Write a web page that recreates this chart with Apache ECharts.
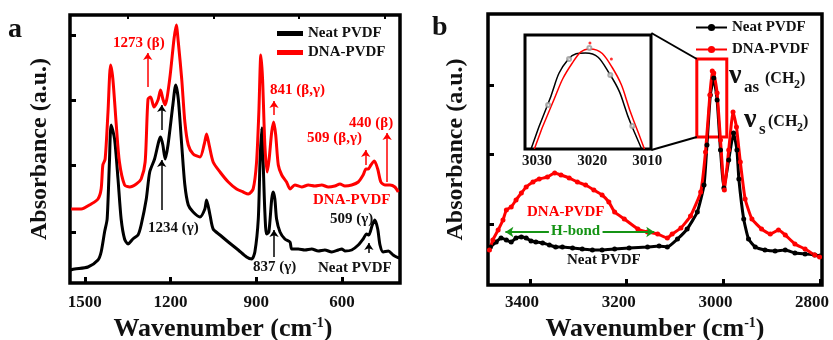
<!DOCTYPE html>
<html>
<head>
<meta charset="utf-8">
<script src="https://cdn.jsdelivr.net/npm/echarts@6/dist/echarts.min.js"></script>
<style>
  html, body { margin: 0; padding: 0; background: #fff; }
  #chart { width: 833px; height: 340px; }
</style>
</head>
<body>
<div id="chart"></div>
<script>
// ---- panel a: fingerprint region ----
var waveA_neat = [1550,1536,1489,1454,1443,1431,1422,1414,1408,1396,1384,1373,1361,1349,1332,1314,1303,1285,1273,1256,1235,1227,1219,1209,1192,1182,1173,1161,1150,1138,1121,1097,1080,1074,1062,1051,1027,998,963,934,916,905,893,887,881,876,870,864,856,846,841,835,829,817,800,782,776,753,730,706,683,660,636,613,601,590,566,543,526,514,506,494,485,475,467,456,438,421,409,400];
var absA_neat = [0.13,0.14,0.16,0.23,0.31,0.51,0.64,1.21,1.58,1.44,1.04,0.64,0.44,0.39,0.44,0.48,0.58,0.84,1.11,1.24,1.46,1.38,1.24,1.38,1.78,1.98,1.84,1.38,0.98,0.78,0.71,0.66,0.74,0.83,0.68,0.54,0.48,0.41,0.33,0.26,0.24,0.31,0.64,1.21,1.55,1.21,0.71,0.49,0.51,0.84,0.91,0.84,0.64,0.51,0.44,0.41,0.34,0.34,0.33,0.34,0.32,0.33,0.31,0.33,0.34,0.32,0.33,0.38,0.44,0.49,0.48,0.58,0.63,0.54,0.38,0.31,0.32,0.28,0.26,0.25];
var waveA_dna = [1548,1513,1478,1454,1443,1437,1429,1419,1410,1402,1390,1379,1361,1343,1320,1303,1289,1279,1270,1258,1244,1235,1227,1219,1203,1188,1180,1173,1161,1150,1138,1121,1097,1082,1074,1065,1051,1027,998,969,946,928,911,899,891,884,878,870,862,855,846,839,832,823,811,794,782,765,741,718,695,671,648,625,607,590,566,543,526,516,508,499,487,475,464,450,432,415,403];
var absA_dna = [0.74,0.74,0.79,0.84,0.94,1.18,1.24,1.71,2.18,2.04,1.58,1.21,0.98,0.96,0.99,1.04,1.21,1.84,1.86,1.76,1.83,1.93,1.84,1.78,2.04,2.44,2.58,2.41,2.04,1.61,1.38,1.29,1.26,1.39,1.49,1.38,1.21,1.11,1.01,0.94,0.91,0.89,0.94,1.21,1.71,2.28,2.04,1.38,1.11,1.24,1.51,1.61,1.48,1.18,1.08,1.01,0.94,0.98,0.96,0.98,0.97,0.98,0.96,0.97,0.99,0.97,0.98,1.01,1.08,1.14,1.14,1.18,1.22,1.14,1.01,0.98,0.98,0.96,0.91];
var ticksXA = [1500, 1200, 900, 600];
var minorXA = [1350, 1050, 750, 450];
var ticksYA = [0.51, 1.18, 1.83, 2.48];

// ---- panel b: C-H stretching region ----
var waveB_neat = [3482,3470,3460,3449,3439,3429,3418,3408,3398,3388,3374,3360,3347,3333,3312,3292,3271,3251,3225,3195,3157,3133,3116,3095,3075,3054,3040,3034,3027,3020,3013,3006,2999,2989,2979,2972,2968,2958,2948,2934,2914,2893,2872,2852,2831,2811,2800];
var absB_neat = [0.38,0.43,0.47,0.45,0.43,0.47,0.48,0.47,0.44,0.43,0.42,0.40,0.38,0.38,0.37,0.36,0.35,0.35,0.36,0.37,0.38,0.39,0.38,0.46,0.56,0.73,1.00,1.40,1.90,2.07,1.85,1.35,0.97,1.25,1.52,1.35,1.06,0.66,0.46,0.38,0.35,0.34,0.35,0.32,0.31,0.30,0.29];
var waveB_dna = [3484,3477,3466,3456,3449,3439,3429,3418,3408,3394,3381,3364,3349,3336,3319,3302,3285,3268,3251,3237,3225,3205,3177,3157,3136,3116,3106,3088,3068,3047,3037,3028,3023,3020,3013,3006,2998,2989,2980,2973,2965,2955,2941,2921,2903,2886,2872,2852,2831,2811,2801];
var absB_dna = [0.35,0.45,0.55,0.65,0.75,0.78,0.85,0.92,0.98,1.03,1.06,1.08,1.12,1.10,1.07,1.03,1.00,0.95,0.90,0.83,0.73,0.66,0.56,0.53,0.51,0.47,0.51,0.57,0.69,0.93,1.33,1.90,2.14,2.12,1.92,1.45,0.95,1.35,1.73,1.58,1.23,0.86,0.66,0.56,0.51,0.55,0.50,0.41,0.36,0.30,0.28];
var ticksXB = [3400, 3200, 3000, 2800];
var ticksYB = [0.61, 1.31, 2.00];

// ---- inset: zoom on the asymmetric CH2 peak ----
var insetWave_neat = [3031.1, 3028.1, 3024.3, 3021.2, 3016.7, 3012.8, 3011.0];
var insetAbs_neat = [0, 0.44, 0.90, 0.96, 0.74, 0.23, 0];
var insetWave_dna = [3030.5, 3027.5, 3023.6, 3020.4, 3016.4, 3012.5, 3010.5];
var insetAbs_dna = [0, 0.42, 0.86, 1.00, 0.82, 0.29, 0];
var insetPtsWave_neat = [3028.0, 3024.2, 3020.5, 3016.7, 3012.7];
var insetPtsAbs_neat = [0.44, 0.90, 1.01, 0.74, 0.23];
var insetPtsWave_dna = [3020.4, 3016.5];
var insetPtsAbs_dna = [1.06, 0.90];
var ticksXI = [3030, 3020, 3010];

var serif = '"Liberation Serif", "Times New Roman", serif';
var RED = '#ff0000';
var GREEN = '#159415';
var INK = '#111';

function pairs(xs, ys) {
  return xs.map(function (x, i) { return [x, ys[i]]; });
}

function txt(x, y, t, color, size) {
  return {
    type: 'text', x: x, y: y, z: 100,
    style: { text: t, fill: color, font: 'bold ' + size + 'px ' + serif, textAlign: 'left', textVerticalAlign: 'middle' }
  };
}

function arrow(x, y1, y2) {
  return [{ coord: [x, y1] }, { coord: [x, y2] }];
}

function plain(v) { return String(v); }

var nameStyle = {
  fontSize: 26, fontWeight: 'bold', fontFamily: serif, color: INK,
  rich: { sup: { fontSize: 14, fontWeight: 'bold', fontFamily: serif, color: INK, verticalAlign: 'top' } }
};
var tickLabel = { fontSize: 17, fontWeight: 'bold', fontFamily: serif, color: INK, formatter: plain };
var legendText = { fontSize: 15, fontWeight: 'bold', fontFamily: serif, color: INK };

var chart = echarts.init(document.getElementById('chart'));

var option = {
  animation: false,
  backgroundColor: '#fff',
  grid: [
    { left: 70, top: 15, width: 330, height: 268, show: true, borderColor: '#000', borderWidth: 3.5, outerBoundsMode: 'none', containLabel: false },
    { left: 488, top: 14, width: 334, height: 271, show: true, borderColor: '#000', borderWidth: 3.5, outerBoundsMode: 'none', containLabel: false },
    { left: 525, top: 35, width: 126, height: 114, show: true, borderColor: '#000', borderWidth: 3, backgroundColor: '#fff', outerBoundsMode: 'none', containLabel: false }
  ],
  xAxis: [
    {
      gridIndex: 0, type: 'value', min: 397, max: 1552, inverse: true,
      axisLine: { show: false }, splitLine: { show: false },
      axisTick: { inside: true, length: 6, customValues: ticksXA, lineStyle: { color: '#000', width: 3 } },
      axisLabel: Object.assign({ margin: 11, customValues: ticksXA }, tickLabel),
      name: 'Wavenumber (cm{sup|-1})', nameLocation: 'middle', nameGap: 30,
      nameTextStyle: Object.assign({ padding: [0, 24, 0, 0] }, nameStyle)
    },
    {
      gridIndex: 0, type: 'value', min: 397, max: 1552, inverse: true,
      axisLine: { show: false }, splitLine: { show: false }, axisLabel: { show: false },
      axisTick: { inside: true, length: 4, customValues: minorXA, lineStyle: { color: '#000', width: 2 } }
    },
    {
      gridIndex: 1, type: 'value', min: 2796, max: 3487, inverse: true,
      axisLine: { show: false }, splitLine: { show: false },
      axisTick: { inside: true, length: 6, customValues: ticksXB, lineStyle: { color: '#000', width: 3 } },
      axisLabel: Object.assign({ margin: 9, customValues: ticksXB, padding: [0, 16, 0, 0] }, tickLabel),
      name: 'Wavenumber (cm{sup|-1})', nameLocation: 'middle', nameGap: 29,
      nameTextStyle: nameStyle
    },
    {
      gridIndex: 2, type: 'value', min: 3009.3, max: 3032.2, inverse: true,
      axisLine: { show: false }, splitLine: { show: false },
      axisTick: { show: false },
      axisLabel: { margin: 5, customValues: ticksXI, fontSize: 15, fontWeight: 'bold', fontFamily: serif, color: INK, formatter: plain }
    }
  ],
  yAxis: [
    {
      gridIndex: 0, type: 'value', min: 0, max: 2.68,
      axisLine: { show: false }, splitLine: { show: false }, axisLabel: { show: false },
      axisTick: { inside: true, length: 6, customValues: ticksYA, lineStyle: { color: '#000', width: 3 } },
      name: 'Absorbance (a.u.)', nameLocation: 'middle', nameGap: 18,
      nameTextStyle: { fontSize: 24, fontWeight: 'bold', fontFamily: serif, color: INK }
    },
    {
      gridIndex: 1, type: 'value', min: 0, max: 2.71,
      axisLine: { show: false }, splitLine: { show: false }, axisLabel: { show: false },
      axisTick: { inside: true, length: 6, customValues: ticksYB, lineStyle: { color: '#000', width: 3 } },
      name: 'Absorbance (a.u.)', nameLocation: 'middle', nameGap: 20,
      nameTextStyle: { fontSize: 24, fontWeight: 'bold', fontFamily: serif, color: INK }
    },
    {
      gridIndex: 2, type: 'value', min: 0, max: 1.14,
      axisLine: { show: false }, splitLine: { show: false }, axisLabel: { show: false }, axisTick: { show: false }
    }
  ],
  legend: [
    {
      data: [{ name: 'Neat PVDF', icon: 'rect' }, { name: 'DNA-PVDF', icon: 'rect' }],
      orient: 'vertical', left: 277, top: 26, padding: 0,
      itemWidth: 26, itemHeight: 5, itemGap: 4, selectedMode: false, textStyle: legendText
    },
    {
      data: ['Neat PVDF (b)', 'DNA-PVDF (b)'], orient: 'vertical', left: 695, top: 20, padding: 0,
      itemWidth: 31, itemHeight: 9, itemGap: 7, selectedMode: false, textStyle: legendText,
      formatter: function (n) { return n.replace(' (b)', ''); }
    }
  ],
  series: [
    {
      name: 'Neat PVDF', type: 'line', xAxisIndex: 0, yAxisIndex: 0,
      data: pairs(waveA_neat, absA_neat), showSymbol: false, smooth: 0.25,
      lineStyle: { color: '#000', width: 3 }, itemStyle: { color: '#000' },
      markLine: {
        silent: true, symbol: ['none', 'arrow'], symbolSize: 7, label: { show: false },
        lineStyle: { color: '#000', width: 1.5, type: 'solid' },
        data: [arrow(1231, 1.53, 1.78), arrow(1231, 0.73, 1.23), arrow(838, 0.26, 0.53), arrow(506, 0.30, 0.40)]
      }
    },
    {
      name: 'DNA-PVDF', type: 'line', xAxisIndex: 0, yAxisIndex: 0,
      data: pairs(waveA_dna, absA_dna), showSymbol: false, smooth: 0.25,
      lineStyle: { color: RED, width: 3 }, itemStyle: { color: RED },
      markLine: {
        silent: true, symbol: ['none', 'arrow'], symbolSize: 7, label: { show: false },
        lineStyle: { color: RED, width: 1.5, type: 'solid' },
        data: [arrow(1280, 1.96, 2.30), arrow(838, 1.68, 1.82), arrow(517, 1.18, 1.33), arrow(442, 1.01, 1.50)]
      }
    },
    {
      name: 'Neat PVDF (b)', type: 'line', xAxisIndex: 2, yAxisIndex: 1,
      data: pairs(waveB_neat, absB_neat), showSymbol: true, symbol: 'circle', symbolSize: 5, smooth: 0.15,
      lineStyle: { color: '#000', width: 3 }, itemStyle: { color: '#000' },
      markLine: {
        silent: true, symbol: ['none', 'arrow'], symbolSize: 8, label: { show: false },
        lineStyle: { color: GREEN, width: 2, type: 'solid' },
        data: [
          [{ coord: [3361, 0.53] }, { coord: [3451, 0.53] }],
          [{ coord: [3250, 0.53] }, { coord: [3143, 0.53] }]
        ]
      }
    },
    {
      name: 'DNA-PVDF (b)', type: 'line', xAxisIndex: 2, yAxisIndex: 1,
      data: pairs(waveB_dna, absB_dna), showSymbol: true, symbol: 'circle', symbolSize: 5, smooth: 0.15,
      lineStyle: { color: RED, width: 3 }, itemStyle: { color: RED },
      markArea: {
        silent: true,
        itemStyle: { color: 'rgba(0,0,0,0)', borderColor: RED, borderWidth: 3 },
        data: [[{ coord: [3055, 2.26] }, { coord: [2993, 1.48] }]]
      },
      markLine: {
        silent: true, symbol: ['none', 'none'], label: { show: false },
        lineStyle: { color: '#000', width: 2, type: 'solid' },
        data: [
          [{ coord: [3149, 2.52] }, { coord: [3055, 2.26] }],
          [{ coord: [3149, 1.35] }, { coord: [3055, 1.48] }]
        ]
      }
    },
    {
      name: 'inset neat', type: 'line', xAxisIndex: 3, yAxisIndex: 2,
      data: pairs(insetWave_neat, insetAbs_neat), showSymbol: false, smooth: 0.5,
      lineStyle: { color: '#000', width: 1.5 }, z: 5
    },
    {
      name: 'inset dna', type: 'line', xAxisIndex: 3, yAxisIndex: 2,
      data: pairs(insetWave_dna, insetAbs_dna), showSymbol: false, smooth: 0.5,
      lineStyle: { color: RED, width: 1.5 }, z: 5
    },
    {
      name: 'inset neat pts', type: 'scatter', xAxisIndex: 3, yAxisIndex: 2,
      data: pairs(insetPtsWave_neat, insetPtsAbs_neat), symbol: 'emptyCircle', symbolSize: 4,
      itemStyle: { color: '#999', borderWidth: 1 }, z: 6
    },
    {
      name: 'inset dna pts', type: 'scatter', xAxisIndex: 3, yAxisIndex: 2,
      data: pairs(insetPtsWave_dna, insetPtsAbs_dna), symbol: 'circle', symbolSize: 3,
      itemStyle: { color: RED }, z: 6
    }
  ],
  graphic: [
    txt(8, 30, 'a', INK, 28),
    txt(113, 43, '1273 (β)', RED, 15),
    txt(148, 228, '1234 (γ)', INK, 15),
    txt(270, 90, '841 (β,γ)', RED, 15),
    txt(253, 267, '837 (γ)', INK, 15),
    txt(307, 138, '509 (β,γ)', RED, 15),
    txt(349, 123, '440 (β)', RED, 15),
    txt(313, 200, 'DNA-PVDF', RED, 15),
    txt(330, 219, '509 (γ)', INK, 15),
    txt(318, 268, 'Neat PVDF', INK, 15),

    txt(432, 28, 'b', INK, 28),
    txt(527, 212, 'DNA-PVDF', RED, 15),
    txt(551, 231, 'H-bond', GREEN, 15),
    txt(567, 260, 'Neat PVDF', INK, 15),
    txt(729, 76, 'ν', INK, 28),
    txt(744, 88, 'as', INK, 17),
    txt(765, 79, '(CH', INK, 16),
    txt(794, 85, '2', INK, 12),
    txt(800, 79, ')', INK, 16),
    txt(744, 120, 'ν', INK, 28),
    txt(759, 130, 's', INK, 17),
    txt(768, 122, '(CH', INK, 16),
    txt(797, 128, '2', INK, 12),
    txt(803, 122, ')', INK, 16)
  ]
};

chart.setOption(option);
</script>
</body>
</html>
